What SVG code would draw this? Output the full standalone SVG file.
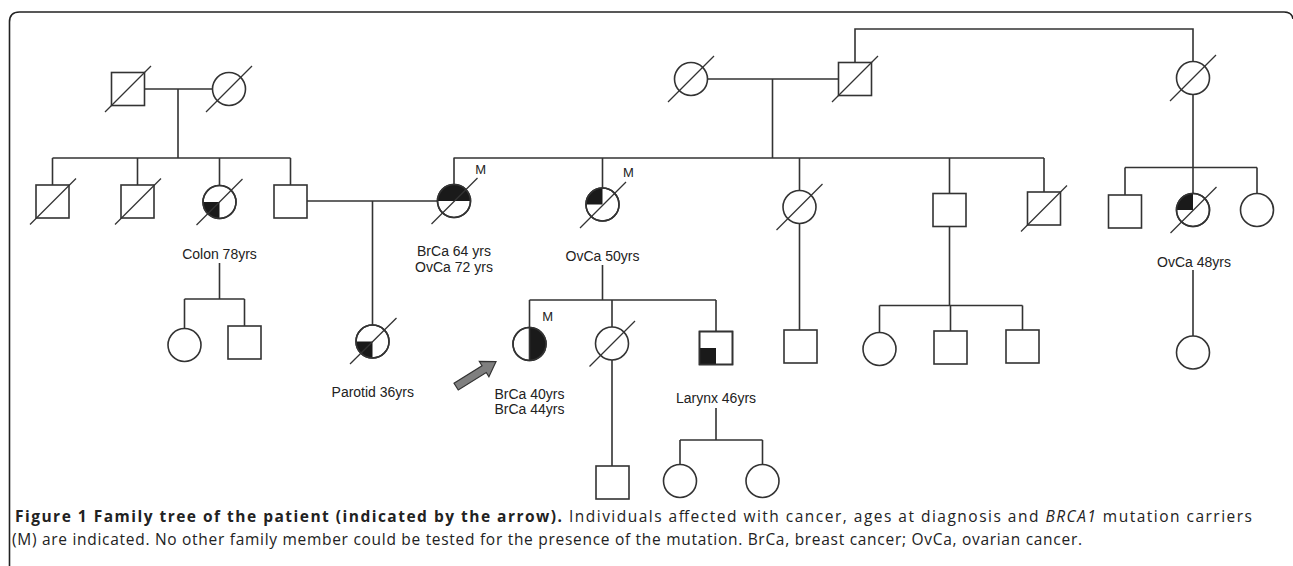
<svg xmlns="http://www.w3.org/2000/svg" width="1293" height="566" viewBox="0 0 1293 566">
<defs>
<style>
.ln{stroke:#333;stroke-width:1.6;fill:none}
.nd{stroke:#333;stroke-width:1.6;fill:#fff}
.sl{stroke:#333;stroke-width:1.3}
.fl{fill:#1a1a1a}
.lb{font-family:"Liberation Sans",Arial,sans-serif;font-size:14px;fill:#222;text-anchor:middle}
.mk{font-family:"Liberation Sans",Arial,sans-serif;font-size:13px;fill:#222;text-anchor:middle}
.cap{font-family:"Open Sans","Liberation Sans",sans-serif;font-size:15.5px;fill:#222}
</style>
</defs>
<rect x="0" y="0" width="1293" height="566" fill="#fff"/>
<path d="M9.5,566 V22 Q9.5,12 19.5,12 H1284 Q1292,12 1293,19" fill="none" stroke="#222" stroke-width="1.6"/>

<g id="connectors" class="ln">
<path d="M144.5,89 H212.5 M178,89 V158 M52.5,158 H290.5 M52.5,158 V185 M137.5,158 V185 M219.5,158 V185.5 M290.5,158 V185"/>
<path d="M707.5,79 H838.5 M772.5,79 V158 M453.5,158 H1044 M454,158 V184.5 M602.5,158 V188 M799.5,158 V190.5 M949.5,158 V193.5 M1044,158 V192"/>
<path d="M855,62.5 V29 H1193 V61.5 M1193,94.5 V167.5 M1125,167.5 H1257 M1125,167.5 V195 M1193,167.5 V193.5 M1257,167.5 V193.5"/>
<path d="M307,201 H437.5 M372.5,201 V325"/>
<path d="M219.5,263 V299 M184.5,299 H244.5 M184.5,299 V328.5 M244.5,299 V326"/>
<path d="M602.5,265 V300 M529.5,300 H716 M529.5,300 V327.5 M612,300 V327 M716,300 V331.5 M612,360 V466"/>
<path d="M716,408 V440 M680,440 H762.5 M680,440 V464.5 M762.5,440 V464.5"/>
<path d="M799.5,223.5 V330 M949.5,226.5 V305.5 M879.5,305.5 H1022.5 M879.5,305.5 V332.5 M950.5,305.5 V331 M1022.5,305.5 V330"/>
<path d="M1193,270 V336"/>
</g>

<g id="I-1"><rect class="nd" x="111.5" y="72.5" width="33" height="33"/><line class="sl" x1="105" y1="112" x2="151" y2="66"/></g>
<g id="I-2"><circle class="nd" cx="229" cy="89" r="16.5"/><line class="sl" x1="206" y1="112" x2="252" y2="66"/></g>
<g id="I-3"><circle class="nd" cx="691" cy="79" r="16.5"/><line class="sl" x1="668" y1="102" x2="714" y2="56"/></g>
<g id="I-4"><rect class="nd" x="838.5" y="62.5" width="33" height="33"/><line class="sl" x1="832" y1="102" x2="878" y2="56"/></g>
<g id="I-5"><circle class="nd" cx="1193" cy="78" r="16.5"/><line class="sl" x1="1170" y1="101" x2="1216" y2="55"/></g>

<g id="II-1"><rect class="nd" x="36" y="185" width="33" height="33"/><line class="sl" x1="30" y1="224.5" x2="76" y2="178.5"/></g>
<g id="II-2"><rect class="nd" x="121" y="185" width="33" height="33"/><line class="sl" x1="115" y1="224.5" x2="161" y2="178.5"/></g>
<g id="II-3"><circle class="nd" cx="219.5" cy="202" r="16.5"/><path class="fl" d="M219.5,202 H203 A16.5,16.5 0 0 0 219.5,218.5 Z"/><circle class="ln" cx="219.5" cy="202" r="16.5"/><line class="sl" x1="196.5" y1="225" x2="242.5" y2="179"/><text class="lb" x="219.5" y="259">Colon 78yrs</text></g>
<g id="II-4"><rect class="nd" x="274" y="185" width="33" height="33"/></g>
<g id="II-5"><circle class="nd" cx="454" cy="201" r="16.5"/><path class="fl" d="M437.5,201 A16.5,16.5 0 0 1 470.5,201 Z"/><circle class="ln" cx="454" cy="201" r="16.5"/><line class="sl" x1="431.5" y1="224" x2="477.5" y2="178"/><text class="mk" x="480.7" y="173.5">M</text><text class="lb" x="454" y="256">BrCa 64 yrs</text><text class="lb" x="454" y="271.7">OvCa 72 yrs</text></g>
<g id="II-6"><circle class="nd" cx="602.5" cy="204.5" r="16.5"/><path class="fl" d="M602.5,204.5 V188 A16.5,16.5 0 0 0 586,204.5 Z"/><circle class="ln" cx="602.5" cy="204.5" r="16.5"/><line class="sl" x1="580" y1="228" x2="626" y2="182"/><text class="mk" x="628.3" y="177">M</text><text class="lb" x="602.5" y="261">OvCa 50yrs</text></g>
<g id="II-7"><circle class="nd" cx="799.5" cy="207" r="16.5"/><line class="sl" x1="776.5" y1="230" x2="822.5" y2="184"/></g>
<g id="II-8"><rect class="nd" x="933" y="193.5" width="33" height="33"/></g>
<g id="II-9"><rect class="nd" x="1027.5" y="192" width="33" height="33"/><line class="sl" x1="1021" y1="231.5" x2="1067" y2="185.5"/></g>
<g id="II-10"><rect class="nd" x="1108.5" y="195" width="33" height="33"/></g>
<g id="II-11"><circle class="nd" cx="1193" cy="210" r="16.5"/><path class="fl" d="M1193,210 V193.5 A16.5,16.5 0 0 0 1176.5,210 Z"/><circle class="ln" cx="1193" cy="210" r="16.5"/><line class="sl" x1="1170.5" y1="233" x2="1216.5" y2="187"/><text class="lb" x="1194" y="266.7">OvCa 48yrs</text></g>
<g id="II-12"><circle class="nd" cx="1257" cy="210" r="16.5"/></g>

<g id="III-1"><circle class="nd" cx="184.5" cy="345" r="16.5"/></g>
<g id="III-2"><rect class="nd" x="228" y="326" width="33" height="33"/></g>
<g id="III-3"><circle class="nd" cx="372.5" cy="341.5" r="16.5"/><path class="fl" d="M372.5,341.5 H356 A16.5,16.5 0 0 0 372.5,358 Z"/><circle class="ln" cx="372.5" cy="341.5" r="16.5"/><line class="sl" x1="350" y1="364" x2="396.5" y2="318"/><text class="lb" x="372.8" y="396.7">Parotid 36yrs</text></g>
<g id="III-4"><circle class="nd" cx="529.5" cy="344" r="16.5"/><path class="fl" d="M529.5,327.5 A16.5,16.5 0 0 1 529.5,360.5 Z"/><circle class="ln" cx="529.5" cy="344" r="16.5"/><line class="ln" x1="529.5" y1="327.5" x2="529.5" y2="360.5"/><text class="mk" x="547.7" y="321">M</text><text class="lb" x="529.5" y="399.3">BrCa 40yrs</text><text class="lb" x="529.5" y="414.3">BrCa 44yrs</text></g>
<g id="proband-arrow"><polygon points="0,0 -14,-9 -14,-4 -47,-4 -47,4 -14,4 -14,9" transform="translate(496,361.7) rotate(-32)" fill="#7f7f7f" stroke="#333" stroke-width="1.2" stroke-linejoin="miter"/></g>
<g id="III-5"><circle class="nd" cx="612" cy="343.5" r="16.5"/><line class="sl" x1="589.5" y1="366.5" x2="635" y2="321"/></g>
<g id="III-6"><rect class="nd" x="699.5" y="331.5" width="33" height="33"/><rect class="fl" x="699.5" y="348" width="16.5" height="16.5"/><rect class="ln" x="699.5" y="331.5" width="33" height="33"/><text class="lb" x="716" y="403.3">Larynx 46yrs</text></g>
<g id="III-7"><rect class="nd" x="784" y="330" width="33" height="33"/></g>
<g id="III-8"><circle class="nd" cx="879.5" cy="349" r="16.5"/></g>
<g id="III-9"><rect class="nd" x="934" y="331" width="33" height="33"/></g>
<g id="III-10"><rect class="nd" x="1006" y="330" width="33" height="33"/></g>
<g id="III-11"><circle class="nd" cx="1193" cy="352.5" r="16.5"/></g>

<g id="IV-1"><rect class="nd" x="596" y="466" width="33" height="33"/></g>
<g id="IV-2"><circle class="nd" cx="680" cy="481" r="16.5"/></g>
<g id="IV-3"><circle class="nd" cx="762.5" cy="481" r="16.5"/></g>

<g id="caption">
<text class="cap" x="15" y="522" textLength="1237" lengthAdjust="spacing"><tspan font-weight="bold">Figure 1 Family tree of the patient (indicated by the arrow).</tspan> Individuals affected with cancer, ages at diagnosis and <tspan font-style="italic">BRCA1</tspan> mutation carriers</text>
<text class="cap" x="12" y="545" textLength="1070" lengthAdjust="spacing">(M) are indicated. No other family member could be tested for the presence of the mutation. BrCa, breast cancer; OvCa, ovarian cancer.</text>
</g>
</svg>
